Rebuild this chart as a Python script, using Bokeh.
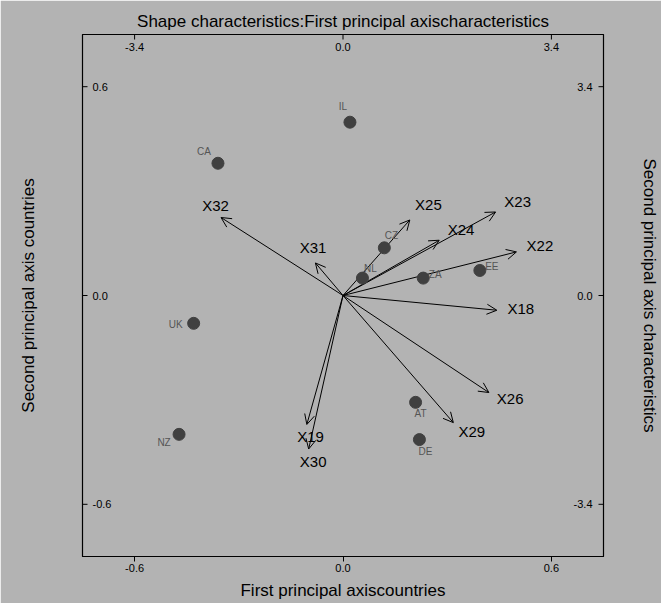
import numpy as np
from bokeh.plotting import figure
from bokeh.models import (Range1d, LinearAxis, FixedTicker, Arrow, OpenHead,
                          ColumnDataSource, PrintfTickFormatter)
from bokeh.core.properties import value
from bokeh.embed import file_html
from bokeh.resources import INLINE

# ---------------- data ----------------
countries = ["IL", "CA", "CZ", "NL", "ZA", "EE", "UK", "NZ", "AT", "DE"]
country_x = [0.020, -0.360, 0.119, 0.056, 0.231, 0.394, -0.430, -0.472, 0.209, 0.220]
country_y = [0.498, 0.380, 0.137, 0.050, 0.050, 0.072, -0.080, -0.399, -0.307, -0.414]

characteristics = ["X32", "X31", "X25", "X24", "X23", "X22", "X18", "X26", "X29", "X19", "X30"]
char_x = [-1.99, -0.45, 1.09, 1.57, 2.49, 2.83, 2.51, 2.38, 1.80, -0.59, -0.56]
char_y = [1.27, 0.53, 1.23, 0.90, 1.36, 0.71, -0.24, -1.58, -2.07, -2.10, -2.50]

country_ticks = [-0.6, 0.0, 0.6]
char_ticks = [-3.4, 0.0, 3.4]

# ---------------- styles ----------------
FONT = "Liberation Sans"
BG = "#b3b3b3"
# screen offsets (px) of country labels relative to their dot
label_dx = [-7, -14, 7, 8, 12, 12, -18, -15, 5, 6]
label_dy = [-16, -12, -12, -10, -4, -4, 1, 8, 11, 12]

lim = 0.75
scale = 3.4 / 0.6
clim = lim * scale

p = figure(width=661, height=603, output_backend="svg", toolbar_location=None,
           x_range=Range1d(-lim, lim), y_range=Range1d(-lim, lim),
           min_border_left=82, min_border_right=57, min_border_top=34, min_border_bottom=47)
p.extra_x_ranges = {"cx": Range1d(-clim, clim)}
p.extra_y_ranges = {"cy": Range1d(-clim, clim)}

p.background_fill_color = BG
p.border_fill_color = BG
p.outline_line_color = "black"
p.outline_line_width = 1.2
p.grid.visible = False

p.title.text = "Shape characteristics:First principal axischaracteristics"
p.title.align = "center"
p.title.text_font = FONT
p.title.text_font_size = "17px"
p.title.text_font_style = "normal"
p.title.text_color = "black"
p.title.standoff = 8


def style_axis(ax):
    ax.axis_line_color = "black"
    ax.major_tick_line_color = "black"
    ax.minor_tick_line_color = None
    ax.major_label_text_font = FONT
    ax.major_label_text_color = "black"
    ax.axis_label_text_font = FONT
    ax.axis_label_text_font_style = "normal"
    ax.axis_label_text_color = "black"
    ax.axis_label_text_font_size = "17px"


# bottom axis: ticks and labels outside
xb = p.xaxis[0]
style_axis(xb)
xb.ticker = FixedTicker(ticks=country_ticks)
xb.formatter = PrintfTickFormatter(format="%.1f")
xb.major_tick_in = 0
xb.major_tick_out = 5
xb.major_label_text_font_size = "11px"
xb.major_label_standoff = 2
xb.axis_label = "First principal axiscountries"
xb.axis_label_standoff = 6

# left / right axes carry only their titles; their ticks and labels sit inside the frame
yl = p.yaxis[0]
style_axis(yl)
yl.ticker = FixedTicker(ticks=[])
yl.major_tick_in = 0
yl.major_tick_out = 0
yl.major_label_standoff = 0
yl.axis_label = "Second principal axis countries"
yl.axis_label_standoff = 45

yr = LinearAxis(y_range_name="cy")
style_axis(yr)
yr.ticker = FixedTicker(ticks=[])
yr.major_tick_in = 0
yr.major_tick_out = 0
yr.major_label_standoff = 0
yr.axis_label = "Second principal axis characteristics"
yr.axis_label_standoff = 36
p.add_layout(yr, "right")

# ---- inward ticks (half of each dash is clipped by the frame) ----
tick_style = dict(marker="dash", size=10, line_color="black", line_width=1, fill_color=None)
p.scatter(x=[-lim] * len(country_ticks), y=country_ticks, **tick_style)
p.scatter(x=[clim] * len(char_ticks), y=char_ticks, x_range_name="cx", y_range_name="cy", **tick_style)
p.scatter(x=char_ticks, y=[clim] * len(char_ticks), x_range_name="cx", y_range_name="cy",
          angle=np.pi / 2, **tick_style)

# ---- tick labels inside the frame (left, right, top) ----
fmt = lambda t: f"{t:.1f}"
tick_font = dict(text_font=value(FONT), text_font_size="11px", text_color="black")
p.text(x=[-lim] * len(country_ticks), y=country_ticks, text=[fmt(t) for t in country_ticks],
       x_offset=10, text_align="left", text_baseline="middle", **tick_font)
p.text(x=[clim] * len(char_ticks), y=char_ticks, text=[fmt(t) for t in char_ticks],
       x_range_name="cx", y_range_name="cy",
       x_offset=-11, text_align="right", text_baseline="middle", **tick_font)
p.text(x=char_ticks, y=[clim] * len(char_ticks), text=[fmt(t) for t in char_ticks],
       x_range_name="cx", y_range_name="cy",
       y_offset=12, text_align="center", text_baseline="middle", **tick_font)

# ---- characteristic arrows ----
cx = np.array(char_x)
cy = np.array(char_y)
ln = np.hypot(cx, cy)
px_per_unit = 522 / (2 * clim)
d = 16 / px_per_unit
lab_x = cx + cx / ln * d
lab_y = cy + cy / ln * d

arrow_src = ColumnDataSource(dict(x0=[0.0] * len(cx), y0=[0.0] * len(cy), x1=cx, y1=cy))
arr = Arrow(source=arrow_src, x_start="x0", y_start="y0", x_end="x1", y_end="y1",
            x_range_name="cx", y_range_name="cy",
            line_color="black", line_width=1,
            end=OpenHead(size=10, line_color="black", line_width=1), level="underlay")
p.add_layout(arr)

p.text(x=lab_x, y=lab_y, text=characteristics, x_range_name="cx", y_range_name="cy",
       x_offset=8, y_offset=-3, text_align="center", text_baseline="middle",
       text_font=value(FONT), text_font_size="15px", text_color="black")

# ---- countries ----
csrc = ColumnDataSource(dict(x=country_x, y=country_y, name=countries, dx=label_dx, dy=label_dy))
p.scatter("x", "y", source=csrc, size=12, fill_color="#404040", line_color="#404040")
p.text("x", "y", text="name", source=csrc, x_offset="dx", y_offset="dy",
       text_align="center", text_baseline="middle",
       text_font=value(FONT), text_font_size="10px", text_color="#555555")

open("out.html", "w").write(file_html(p, INLINE))
